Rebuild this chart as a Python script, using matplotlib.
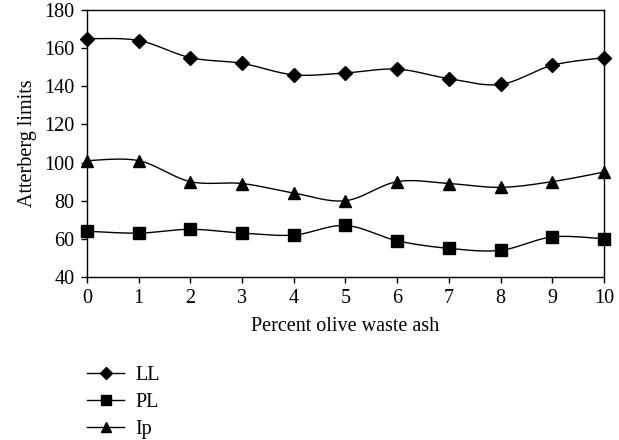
import numpy as np
import matplotlib.pyplot as plt

# Data
percent = [0, 1, 2, 3, 4, 5, 6, 7, 8, 9, 10]
ll = [165, 164, 155, 152, 146, 147, 149, 144, 141, 151, 155]
pl = [64, 63, 65, 63, 62, 67, 59, 55, 54, 61, 60]
ip = [101, 101, 90, 89, 84, 80, 90, 89, 87, 90, 95]
yticks = [40, 60, 80, 100, 120, 140, 160, 180]


# Excel-like smoothed line through the points (cubic Bezier, Catmull-Rom style)
def smooth(x, y, n=30):
    x = np.asarray(x, float)
    y = np.asarray(y, float)
    px = np.concatenate([[x[0]], x, [x[-1]]])
    py = np.concatenate([[y[0]], y, [y[-1]]])
    xs, ys = [], []
    t = np.linspace(0, 1, n)
    for i in range(1, len(px) - 2):
        p0 = np.array([px[i], py[i]])
        p3 = np.array([px[i + 1], py[i + 1]])
        p1 = p0 + (np.array([px[i + 1], py[i + 1]]) - np.array([px[i - 1], py[i - 1]])) / 6
        p2 = p3 - (np.array([px[i + 2], py[i + 2]]) - np.array([px[i], py[i]])) / 6
        b = ((1 - t) ** 3)[:, None] * p0 + (3 * (1 - t) ** 2 * t)[:, None] * p1 \
            + (3 * (1 - t) * t ** 2)[:, None] * p2 + (t ** 3)[:, None] * p3
        xs.extend(b[:, 0])
        ys.extend(b[:, 1])
    return xs, ys


plt.rcParams['font.family'] = ['Liberation Serif', 'DejaVu Serif']
plt.rcParams['font.size'] = 14.5

fig = plt.figure(figsize=(6.19, 4.4), dpi=100)
ax = fig.add_axes([0.1405, 0.3705, 0.8353, 0.6068])

series = [(ll, 'D', 7.5, 'LL'), (pl, 's', 9, 'PL'), (ip, '^', 9, 'Ip')]
handles = []
for vals, mk, ms, name in series:
    sx, sy = smooth(percent, vals)
    ax.plot(sx, sy, color='black', linewidth=1)
    ax.plot(percent, vals, linestyle='none', marker=mk, markersize=ms, color='black', clip_on=False)
    h, = ax.plot([], [], color='black', linewidth=1, marker=mk, markersize=ms * 0.85, label=name)
    handles.append(h)

ax.set_xlim(0, 10)
ax.set_ylim(40, 180)
ax.set_xticks(percent)
ax.set_yticks(yticks)
ax.tick_params(direction='out', length=4, width=1, colors='black', pad=5)
for s in ax.spines.values():
    s.set_linewidth(1)
ax.set_xlabel('Percent olive waste ash', labelpad=6)
ax.set_ylabel('Atterberg limits', labelpad=5)

fig.legend(handles=handles, loc='upper left', bbox_to_anchor=(87 / 619, 0.169),
           frameon=False, handlelength=1.85, handletextpad=0.55,
           labelspacing=0.4, borderpad=0, borderaxespad=0)

plt.savefig('out.png', dpi=100)
